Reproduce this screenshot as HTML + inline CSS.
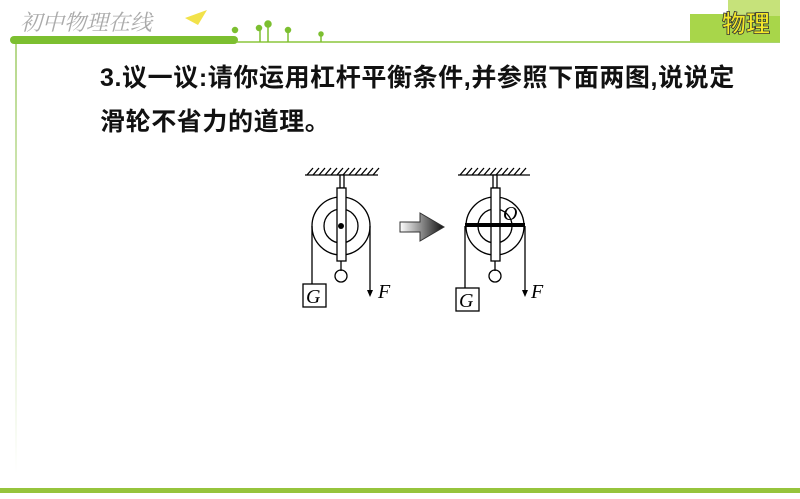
<!DOCTYPE html>
<html><head><meta charset="utf-8"><style>
body{margin:0;width:800px;height:499px;background:#fff;overflow:hidden;position:relative;font-family:"Liberation Sans","Noto Sans CJK SC",sans-serif}
.t{position:absolute;left:100px;font-size:25px;font-weight:bold;color:#111;white-space:nowrap;letter-spacing:0.6px;line-height:30px}
</style></head><body>
<svg width="800" height="499" style="position:absolute;left:0;top:0">
<defs>
<linearGradient id="ar" x1="0" x2="1"><stop offset="0" stop-color="#fff"/><stop offset="1" stop-color="#111"/></linearGradient>
<linearGradient id="vl" x1="0" y1="0" x2="0" y2="1"><stop offset="0" stop-color="#b6d88a"/><stop offset="1" stop-color="#fff"/></linearGradient>
</defs>
<text x="20" y="30" font-family="Liberation Serif,Noto Serif CJK SC,serif" font-size="22" font-style="italic" fill="#aaa">初中物理在线</text>
<path d="M185 18 l22 -8 l-9 15z" fill="#f2e24a"/>
<rect x="10" y="36" width="228" height="8" rx="4" fill="#7cbf30"/>
<line x1="236" y1="42" x2="780" y2="42" stroke="#8cc63c" stroke-width="1.5"/>
<g fill="#7cbf30" stroke="#7cbf30" stroke-width="1.5"><line x1="260" y1="30" x2="260" y2="42"/><line x1="268" y1="26" x2="268" y2="42"/><line x1="288" y1="32" x2="288" y2="42"/><line x1="321" y1="36" x2="321" y2="42"/>
<circle cx="235" cy="30" r="2.5"/><circle cx="259" cy="28" r="2.5"/><circle cx="268" cy="24" r="3"/><circle cx="288" cy="30" r="2.5"/><circle cx="321" cy="34" r="2"/></g>
<rect x="690" y="14" width="90" height="28" fill="#a8d64a"/>
<rect x="728" y="0" width="52" height="16" fill="#c6e27a"/>
<text x="722" y="32" font-size="24" font-weight="bold" fill="#f4e82a" stroke="#333" stroke-width="0.8" font-family="Noto Sans CJK SC,sans-serif">物理</text>
<rect x="15" y="44" width="2" height="430" fill="url(#vl)"/>
<rect x="0" y="488" width="800" height="5" fill="#96c43c"/>
<g stroke="#000" fill="none" stroke-width="1.3">
<line x1="305" y1="175" x2="378" y2="175"/>
<path d="M307 175 l6 -7 M313 175 l6 -7 M319 175 l6 -7 M325 175 l6 -7 M331 175 l6 -7 M337 175 l6 -7 M343 175 l6 -7 M349 175 l6 -7 M355 175 l6 -7 M361 175 l6 -7 M367 175 l6 -7 M373 175 l6 -7"/>
<rect x="340" y="175" width="4" height="13" fill="#fff"/>
<circle cx="341" cy="226" r="29" fill="#fff"/>
<circle cx="341" cy="226" r="17"/>
<rect x="337" y="188" width="9" height="73" fill="#fff"/>
<line x1="312" y1="226" x2="312" y2="284"/>
<line x1="370" y1="226" x2="370" y2="292"/>
<rect x="303" y="284" width="23" height="23"/>
<line x1="341" y1="261" x2="341" y2="271"/>
<circle cx="341" cy="276" r="6"/>
</g>
<circle cx="341" cy="226" r="3" fill="#000"/>
<path d="M367 290 l3 7 l3 -7z" fill="#000"/>
<text x="306" y="303" font-family="Liberation Serif,serif" font-style="italic" font-size="20">G</text>
<text x="378" y="298" font-family="Liberation Serif,serif" font-style="italic" font-size="20">F</text>
<path d="M400 222 h20 v-9 l24 14 l-24 14 v-9 h-20z" fill="url(#ar)" stroke="#333" stroke-width="1"/>
<g stroke="#000" fill="none" stroke-width="1.3">
<line x1="458" y1="175" x2="530" y2="175"/>
<path d="M460 175 l6 -7 M466 175 l6 -7 M472 175 l6 -7 M478 175 l6 -7 M484 175 l6 -7 M490 175 l6 -7 M496 175 l6 -7 M502 175 l6 -7 M508 175 l6 -7 M514 175 l6 -7 M520 175 l6 -7"/>
<rect x="493" y="175" width="4" height="13" fill="#fff"/>
<circle cx="495" cy="226" r="29" fill="#fff"/>
<circle cx="495" cy="226" r="17"/>
<rect x="491" y="188" width="9" height="73" fill="#fff"/>
<line x1="465" y1="226" x2="465" y2="288"/>
<line x1="525" y1="226" x2="525" y2="292"/>
<rect x="456" y="288" width="23" height="23"/>
<line x1="495" y1="261" x2="495" y2="271"/>
<circle cx="495" cy="276" r="6"/>
</g>
<rect x="465" y="223" width="60" height="4" fill="#000"/>
<path d="M522 290 l3 7 l3 -7z" fill="#000"/>
<text x="503" y="220" font-family="Liberation Serif,serif" font-style="italic" font-size="20">O</text>
<text x="459" y="307" font-family="Liberation Serif,serif" font-style="italic" font-size="20">G</text>
<text x="531" y="298" font-family="Liberation Serif,serif" font-style="italic" font-size="20">F</text>
</svg>
<div class="t" style="top:63px">3.议一议:请你运用杠杆平衡条件,并参照下面两图,说说定</div>
<div class="t" style="top:107px">滑轮不省力的道理。</div>
</body></html>
